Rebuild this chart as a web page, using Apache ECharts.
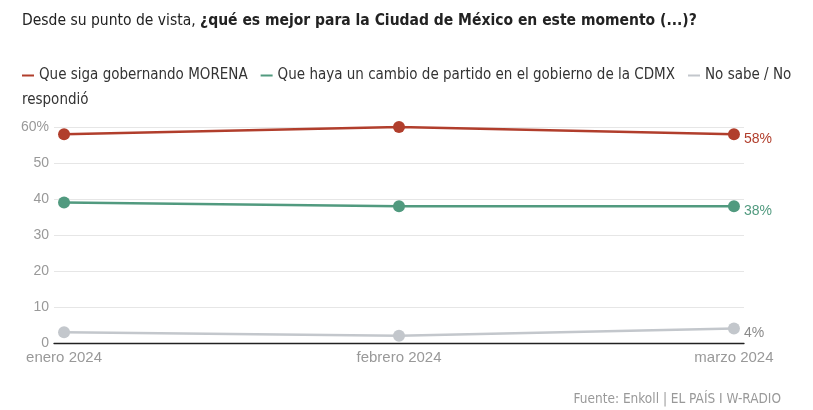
<!DOCTYPE html>
<html><head><meta charset="utf-8">
<script src="https://cdn.jsdelivr.net/npm/echarts@6/dist/echarts.min.js"></script>
<style>html,body{margin:0;padding:0;background:#fff}#c{width:813px;height:410px}</style>
</head><body><div id="c"></div>
<script>
const categories = ['enero 2024', 'febrero 2024', 'marzo 2024'];
const seriesNames = ['Que siga gobernando MORENA', 'Que haya un cambio de partido en el gobierno de la CDMX', 'No sabe / No respondió'];
const morena = [58, 60, 58];
const cambio = [39, 38, 38];
const noSabe = [3, 2, 4];
const yTicks = [0, 10, 20, 30, 40, 50, 60];
const colors = ['#b13e2c', '#519a7f', '#c3c7cc'];
const labelColors = ['#b13e2c', '#519a7f', '#8a8a8a'];

const FONT = "'DejaVu Sans Condensed', 'Roboto', sans-serif";
const FONT2 = "'Liberation Sans', Arial, sans-serif";
const chart = echarts.init(document.getElementById('c'));
const allData = [morena, cambio, noSabe];
const series = allData.map((d, i) => ({
  name: seriesNames[i],
  type: 'line',
  data: d.map((v, j) => [j, v]),
  symbol: 'circle',
  symbolSize: 12,
  lineStyle: { width: 2.5, color: colors[i] },
  itemStyle: { color: colors[i] },
  emphasis: { disabled: true },
  z: 3 - i,
  label: {
    show: true,
    position: 'right',
    distance: 4,
    offset: [0, 5],
    fontFamily: FONT2,
    fontSize: 14,
    color: labelColors[i],
    formatter: p => p.dataIndex === d.length - 1 ? p.value[1] + '%' : ''
  }
}));

chart.setOption({
  animation: false,
  textStyle: { fontFamily: FONT },
  title: [
    {
      left: 17, top: 8,
      text: '{a|Desde su punto de vista, }{b|¿qué es mejor para la Ciudad de México en este momento (...)?}',
      textStyle: {
        fontWeight: 'normal',
        rich: {
          a: { fontFamily: FONT, fontSize: 15.5, fontWeight: 'normal', color: '#222' },
          b: { fontFamily: FONT, fontSize: 15.5, fontWeight: 'bold', color: '#222' }
        }
      }
    },
    {
      left: 17, top: 88,
      text: 'respondió',
      textStyle: { fontFamily: FONT, fontSize: 15, fontWeight: 'normal', color: '#333' }
    },
    {
      right: 27, top: 387,
      text: 'Fuente: Enkoll | EL PAÍS I W-RADIO',
      textStyle: { fontFamily: FONT, fontSize: 13.5, fontWeight: 'normal', color: '#999' }
    }
  ],
  legend: {
    left: 17, top: 63,
    data: seriesNames,
    icon: 'rect',
    itemWidth: 12, itemHeight: 2,
    itemGap: 13,
    selectedMode: false,
    textStyle: { fontFamily: FONT, fontSize: 15, color: '#333' },
    formatter: name => name === seriesNames[2] ? 'No sabe / No' : name
  },
  grid: { left: 54, right: 69, top: 127, bottom: 67, containLabel: false },
  xAxis: {
    type: 'value',
    min: -0.03, max: 2.03,
    splitLine: { show: false },
    axisLine: { show: true, onZero: false, lineStyle: { color: '#222', width: 1.3 } },
    axisTick: { show: false },
    axisLabel: {
      customValues: [0, 1, 2],
      formatter: v => categories[Math.round(v)],
      color: '#999', fontSize: 15, margin: 7, fontFamily: FONT2
    }
  },
  yAxis: {
    type: 'value',
    min: 0, max: 60, interval: 10,
    axisLine: { show: false },
    axisTick: { show: false },
    splitLine: { lineStyle: { color: '#e6e6e6', width: 1 } },
    axisLabel: {
      color: '#999', fontSize: 14, margin: 5, fontFamily: FONT2,
      formatter: v => v === yTicks[yTicks.length - 1] ? v + '%' : String(v)
    }
  },
  series: series
});
</script></body></html>
